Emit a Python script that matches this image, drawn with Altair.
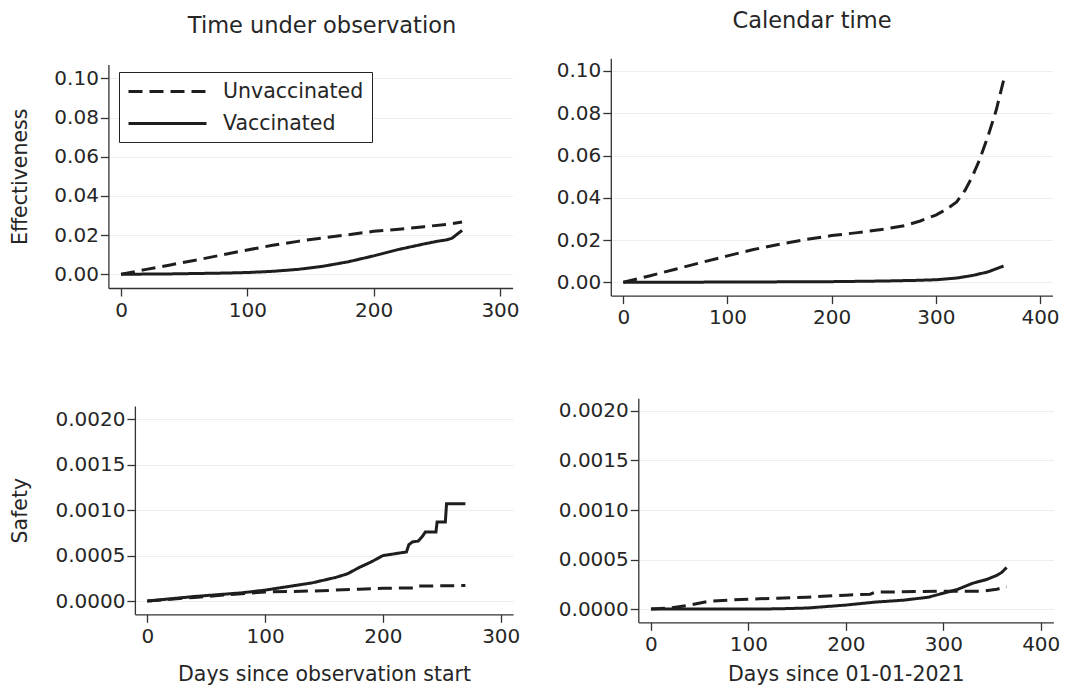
import altair as alt
import pandas as pd

SERIES = ["Unvaccinated", "Vaccinated"]

# ---- Effectiveness, time under observation ----
eff_obs_unvac_x = [0, 20, 40, 60, 80, 100, 120, 140, 160, 180, 200, 220, 240, 260, 270]
eff_obs_unvac_y = [0, .0025, .0049, .0073, .0099, .0124, .0148, .0168, .0186, .0202, .0219, .0230, .0243, .0256, .0267]
eff_obs_vac_x = [0, 20, 40, 60, 80, 100, 120, 140, 160, 180, 200, 220, 240, 250, 258, 262, 266, 270]
eff_obs_vac_y = [0, .0001, .0002, .0004, .0006, .0009, .0015, .0025, .0041, .0064, .0094, .0127, .0155, .0168, .0176, .0184, .0204, .0224]

# ---- Effectiveness, calendar time ----
eff_cal_unvac_x = [0, 25, 50, 75, 100, 125, 150, 175, 200, 225, 250, 270, 285, 300, 310, 320, 328, 335, 342, 350, 358, 365]
eff_cal_unvac_y = [0, .0030, .0062, .0094, .0125, .0155, .0180, .0202, .0221, .0235, .0251, .0268, .0290, .0318, .0345, .0380, .0435, .0500, .0580, .0690, .0815, .0955]
eff_cal_vac_x = [0, 50, 100, 150, 200, 250, 280, 300, 320, 335, 350, 365]
eff_cal_vac_y = [0, .00005, .0001, .0002, .0003, .0006, .0009, .0012, .0020, .0032, .0049, .0077]

# ---- Safety, time under observation ----
saf_obs_unvac_x = [0, 20, 40, 60, 80, 100, 120, 140, 160, 180, 200, 228, 230, 270]
saf_obs_unvac_y = [0, .00002, .00004, .00006, .00008, .00010, .000105, .00011, .00012, .00013, .00014, .000145, .000165, .00017]
saf_obs_vac_x = [0, 20, 40, 60, 80, 100, 120, 140, 150, 160, 170, 180, 190, 200, 210, 220, 222, 225, 230, 234, 236, 245, 246, 253, 254, 270]
saf_obs_vac_y = [0, .000025, .00005, .00007, .00009, .00012, .00016, .00020, .00023, .00026, .00030, .00037, .00043, .00050, .00052, .00054, .00062, .00065, .00066, .00072, .00076, .00076, .00087, .00087, .00107, .00107]

# ---- Safety, calendar time ----
saf_cal_unvac_x = [0, 20, 40, 60, 80, 100, 130, 160, 200, 225, 230, 300, 340, 355, 365]
saf_cal_unvac_y = [0, .00001, .00004, .00008, .00009, .00010, .00011, .00012, .00014, .00015, .00017, .00018, .00018, .00020, .000225]
saf_cal_vac_x = [0, 100, 130, 160, 200, 230, 260, 285, 300, 315, 330, 345, 355, 360, 365]
saf_cal_vac_y = [0, 0, .000002, .00001, .00004, .00007, .00009, .00012, .00016, .00020, .00026, .00030, .00034, .00037, .00042]

# tick labels
x_ticks_obs = [0, 100, 200, 300]
x_ticks_cal = [0, 100, 200, 300, 400]
y_ticks_eff = [0, 0.02, 0.04, 0.06, 0.08, 0.10]
y_ticks_saf = [0, 0.0005, 0.0010, 0.0015, 0.0020]

W, H = 1054, 680
INK = "#262626"
LINE = "#1e1e1e"
FONT = "DejaVu Sans"


def frame(ux, uy, vx, vy):
    rows = []
    for i, (a, b) in enumerate(zip(ux, uy)):
        rows.append({"x": a, "y": b, "series": SERIES[0], "i": i})
    for i, (a, b) in enumerate(zip(vx, vy)):
        rows.append({"x": a, "y": b, "series": SERIES[1], "i": i})
    return pd.DataFrame(rows)


def axis_common(**kw):
    base = dict(
        domainColor="#333333", domainWidth=1.3, tickColor="#333333", tickWidth=1.3,
        tickSize=8, labelFont=FONT, labelFontSize=20, labelColor=INK,
        labelFlush=False, labelOverlap=False, titleFont=FONT, titleFontSize=20.5,
        titleFontWeight="normal", titleColor=INK,
    )
    base.update(kw)
    return alt.Axis(**base)


legend = alt.Legend(
    orient="none", legendX=111, legendY=64, direction="vertical",
    symbolType="M-1,0L6.8,0", symbolSize=400, symbolStrokeWidth=3,
    symbolStrokeColor=LINE, symbolFillColor="transparent",
    labelFont=FONT, labelFontSize=20.5, labelColor=INK, labelOffset=73,
    labelExpr="datum.label + '\u00a0\u00a0\u00a0'",
    rowPadding=10, padding=8, strokeColor="#222222", fillColor="white",
    cornerRadius=0,
)


def panel(df, xdom, xrng, ydom, yrng, xticks, yticks, yfmt, ytitle, xtitle,
          ytitlepad, xtitlepad):
    xax = axis_common(orient="bottom", offset=yrng[0] - H, values=xticks, format="d",
                      grid=False, labelPadding=4, title=xtitle if xtitle else None,
                      titlePadding=xtitlepad)
    yax = axis_common(orient="left", offset=-xrng[0], values=yticks, format=yfmt,
                      grid=True, gridColor="#eeeeee", gridWidth=1, labelPadding=2,
                      title=ytitle if ytitle else None, titlePadding=ytitlepad)
    return alt.Chart(df).mark_line(strokeWidth=3, color=LINE).encode(
        x=alt.X("x:Q", scale=alt.Scale(domain=xdom, range=xrng, nice=False, zero=False), axis=xax),
        y=alt.Y("y:Q", scale=alt.Scale(domain=ydom, range=yrng, nice=False, zero=False), axis=yax),
        strokeDash=alt.StrokeDash("series:N", title=None,
                                  scale=alt.Scale(domain=SERIES, range=[[14, 7], [1, 0]]),
                                  legend=legend),
        order="i:Q",
    )


p1 = panel(frame(eff_obs_unvac_x, eff_obs_unvac_y, eff_obs_vac_x, eff_obs_vac_y),
           [-10, 310], [100.4, 504.6], [-0.007, 0.107], [280.0, 56.6],
           x_ticks_obs, y_ticks_eff, ".2f", "Effectiveness", "", 23, 20)
p2 = panel(frame(eff_cal_unvac_x, eff_cal_unvac_y, eff_cal_vac_x, eff_cal_vac_y),
           [-12, 412], [602.8, 1044.5], [-0.0063, 0.106], [287.6, 50.3],
           x_ticks_cal, y_ticks_eff, ".2f", "", "", 19, 20)
p3 = panel(frame(saf_obs_unvac_x, saf_obs_unvac_y, saf_obs_vac_x, saf_obs_vac_y),
           [-10.5, 310.5], [126.9, 505.1], [-0.000146, 0.002146], [606.3, 398.0],
           x_ticks_obs, y_ticks_saf, ".4f", "Safety", "Days since observation start", 24, 18)
p4 = panel(frame(saf_cal_unvac_x, saf_cal_unvac_y, saf_cal_vac_x, saf_cal_vac_y),
           [-13, 413], [630.3, 1045.4], [-0.000134, 0.002128], [614.3, 390.3],
           x_ticks_cal, y_ticks_saf, ".4f", "", "Days since 01-01-2021", 20, 10)

col_titles = pd.DataFrame({"t": ["Time under observation"]})
col_titles2 = pd.DataFrame({"t": ["Calendar time"]})
t1 = alt.Chart(col_titles).mark_text(font=FONT, fontSize=22.5, color=INK, baseline="middle", align="center").encode(
    text="t:N", x=alt.value(314), y=alt.value(18))
t2 = alt.Chart(col_titles2).mark_text(font=FONT, fontSize=22.5, color=INK, baseline="middle", align="center").encode(
    text="t:N", x=alt.value(804), y=alt.value(12.5))

chart = alt.layer(p1, p2, p3, p4, t1, t2).resolve_scale(
    x="independent", y="independent"
).properties(
    width=W, height=H, padding=0, autosize=alt.AutoSizeParams(type="none"),
    background="white",
).configure_view(strokeWidth=0)

chart.save("out.html", embed_options={"renderer": "svg", "actions": False})
